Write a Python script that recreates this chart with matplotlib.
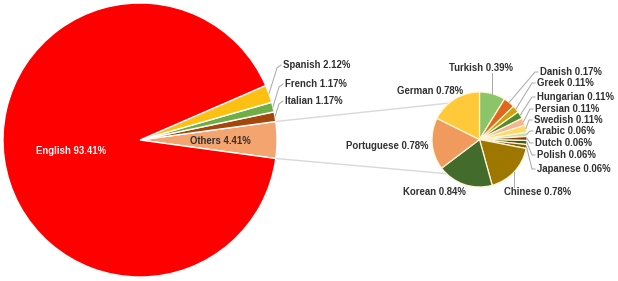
import numpy as np
import matplotlib
matplotlib.use("Agg")
import matplotlib.pyplot as plt

# ---- data ----
main_labels = ["Others", "Italian", "French", "Spanish", "English"]
main_values = [4.41, 1.17, 1.17, 2.12, 93.41]
main_colors = ["#F4A46E", "#A5470D", "#6FAE45", "#FBC012", "#FF0000"]

sub_labels = ["Turkish", "Danish", "Greek", "Hungarian", "Persian", "Swedish",
              "Arabic", "Dutch", "Polish", "Japanese", "Chinese", "Korean",
              "Portuguese", "German"]
sub_values = [0.39, 0.17, 0.11, 0.11, 0.11, 0.11, 0.06, 0.06, 0.06, 0.06,
              0.78, 0.84, 0.78, 0.78]
sub_colors = ["#8CC46A", "#E2661B", "#D2A010", "#4F8A2E", "#F5B393", "#FFD966",
              "#C5E0B4", "#843C0C", "#385723", "#7F6000", "#9E7700", "#436B2B",
              "#F09A5E", "#FFC93A"]

W, H = 618, 281
fig = plt.figure(figsize=(W / 100, H / 100), dpi=100)
ax = fig.add_axes([0, 0, 1, 1])

def Y(y):
    return H - y

FONT = dict(family=["Liberation Sans", "DejaVu Sans"], fontweight="bold", fontsize=6.95, color="#303030")
LEAD = dict(color="#A6A6A6", lw=0.7)

# ---- main pie ----
c1 = (140, Y(140)); r1 = 137
tot1 = sum(main_values)
start1 = -main_values[0] / tot1 * 360 / 2
w1, _ = ax.pie(main_values, colors=main_colors, center=c1, radius=r1,
               startangle=start1, counterclock=True,
               wedgeprops=dict(edgecolor="white", linewidth=1.0), frame=True)

def fmt(name, v):
    return f"{name} {v:.2f}%"

ax.text(71, Y(151), fmt("English", main_values[4]), ha="center", va="center",
        **{**FONT, "color": "white"})
ax.text(220, Y(141), fmt("Others", main_values[0]), ha="center", va="center", **FONT)

main_lab_pos = {"Spanish": (283, 65), "French": (285, 84), "Italian": (285, 101)}
for w, name, v in zip(w1, main_labels, main_values):
    if name in main_lab_pos:
        a = np.deg2rad((w.theta1 + w.theta2) / 2)
        px, py = c1[0] + r1 * np.cos(a), c1[1] + r1 * np.sin(a)
        lx, ly = main_lab_pos[name]
        ax.plot([px, lx - 6, lx - 2], [py, Y(ly) - 3, Y(ly)], **LEAD)
        ax.text(lx, Y(ly), fmt(name, v), ha="left", va="center", **FONT)

# ---- sub pie ----
c2 = (479.5, Y(139.5)); r2 = 47.5
w2, _ = ax.pie(sub_values, colors=sub_colors, center=c2, radius=r2,
               startangle=90, counterclock=False,
               wedgeprops=dict(edgecolor="#FFF6D8", linewidth=0.9), frame=True)

# connection lines between the pies
others = w1[0]
for ang_main, ang_sub in [(others.theta2, 130), (others.theta1, 226)]:
    a = np.deg2rad(ang_main); b = np.deg2rad(ang_sub)
    ax.plot([c1[0] + r1 * np.cos(a), c2[0] + r2 * np.cos(b)],
            [c1[1] + r1 * np.sin(a), c2[1] + r2 * np.sin(b)],
            color="#D9D9D9", lw=1.0, zorder=0)

sub_lab_pos = {
    "Turkish": (481, 68, "center"),
    "Danish": (540, 72, "left"),
    "Greek": (537, 83, "left"),
    "Hungarian": (537, 97, "left"),
    "Persian": (535, 109, "left"),
    "Swedish": (534, 120, "left"),
    "Arabic": (535, 131, "left"),
    "Dutch": (535, 143, "left"),
    "Polish": (537, 155, "left"),
    "Japanese": (537, 169, "left"),
    "Chinese": (538, 192, "center"),
    "Korean": (434, 192, "center"),
    "Portuguese": (428, 146, "right"),
    "German": (430, 91, "center"),
}
for w, name, v in zip(w2, sub_labels, sub_values):
    lx, ly, ha = sub_lab_pos[name]
    a = np.deg2rad((w.theta1 + w.theta2) / 2)
    px, py = c2[0] + r2 * np.cos(a), c2[1] + r2 * np.sin(a)
    if ha == "left":
        ax.plot([px, lx - 5, lx - 2], [py, Y(ly), Y(ly)], **LEAD)
    elif name == "Turkish":
        ax.plot([px, px], [py, Y(ly) - 5], **LEAD)
    elif name == "Chinese":
        ax.plot([px, px], [py, Y(ly) + 5], **LEAD)
    ax.text(lx, Y(ly), fmt(name, v), ha=ha, va="center", **FONT)

ax.set_xlim(0, W)
ax.set_ylim(0, H)
ax.set_aspect("equal")
ax.axis("off")
fig.savefig("out.png", dpi=100, facecolor="white")
